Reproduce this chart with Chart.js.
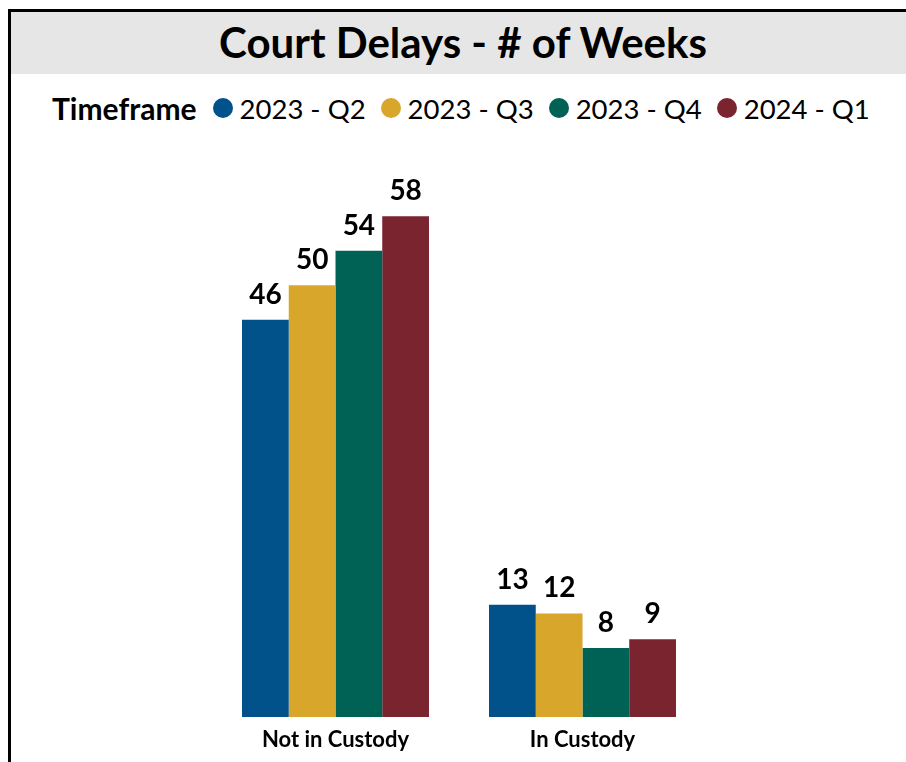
<!DOCTYPE html>
<html>
<head>
<meta charset="utf-8">
<script src="https://cdn.jsdelivr.net/npm/chart.js@4"></script>
<style>
  body { margin: 0; background: #fff; font-family: Lato, "Open Sans", sans-serif; }
  #frame { position: absolute; left: 8px; top: 9px; width: 910px; height: 770px;
           border-top: 3px solid #000; border-left: 3px solid #000; }
  #band { position: absolute; left: 11px; top: 12px; width: 900px; height: 62px; background: #e6e6e6; }
  #title { position: absolute; left: 11px; top: 11px; width: 904px; height: 62px; line-height: 62px;
           text-align: center; font-weight: bold; font-size: 42px; color: #000; }
  #legend { position: absolute; left: 52px; top: 90px; height: 36px; display: flex; align-items: center;
            font-size: 27.5px; color: #000; white-space: nowrap; }
  #legend .head { font-weight: bold; font-size: 30px; margin-right: 16px; }
  #legend .item { display: flex; align-items: center; margin-right: 15px; }
  #legend .dot { width: 20px; height: 20px; border-radius: 50%; margin-right: 7px; }
  #wrap { position: absolute; left: 0; top: 0; width: 906px; height: 762px; }
</style>
</head>
<body>
<div id="band"></div>
<div id="frame"></div>
<div id="title">Court Delays - # of Weeks</div>
<div id="legend"><span class="head">Timeframe</span></div>
<div id="wrap"><canvas id="chart"></canvas></div>
<script>
// categories and series
const categories = ['Not in Custody', 'In Custody'];
const timeframes = ['2023 - Q2', '2023 - Q3', '2023 - Q4', '2024 - Q1'];
const q2_2023 = [46, 13];
const q3_2023 = [50, 12];
const q4_2023 = [54, 8];
const q1_2024 = [58, 9];
const colors = ['#01518a', '#d8a62b', '#006255', '#7a2430'];

const seriesValues = [q2_2023, q3_2023, q4_2023, q1_2024];

// html legend
const legendEl = document.getElementById('legend');
timeframes.forEach((name, i) => {
    const item = document.createElement('span');
    item.className = 'item';
    item.innerHTML = '<span class="dot" style="background:' + colors[i] + '"></span>' + name;
    legendEl.appendChild(item);
});

// value labels above the bars
const valueLabels = {
    id: 'valueLabels',
    afterDatasetsDraw(chart) {
        const ctx = chart.ctx;
        ctx.save();
        ctx.font = 'bold 28px Lato, sans-serif';
        ctx.fillStyle = '#000';
        ctx.textAlign = 'center';
        ctx.textBaseline = 'alphabetic';
        chart.data.datasets.forEach((ds, i) => {
            chart.getDatasetMeta(i).data.forEach((bar, j) => {
                ctx.fillText(ds.data[j], bar.x, bar.y - 16);
            });
        });
        ctx.restore();
    }
};

const ctx = document.getElementById('chart').getContext('2d');
const chart = new Chart(ctx, {
    type: 'bar',
    data: {
        labels: categories,
        datasets: timeframes.map((name, i) => ({
            label: name,
            data: seriesValues[i],
            backgroundColor: colors[i],
            borderWidth: 0,
            barPercentage: 1,
            categoryPercentage: 0.757
        }))
    },
    options: {
        responsive: true,
        maintainAspectRatio: false,
        animation: false,
        layout: { padding: { left: 212, right: 200, top: 199, bottom: 0 } },
        plugins: {
            legend: { display: false },
            tooltip: { enabled: false }
        },
        scales: {
            x: {
                grid: { display: false, drawTicks: false },
                border: { display: false },
                ticks: { color: '#000', padding: 16, font: { family: 'Lato', size: 22, weight: 'bold', lineHeight: 0.59 } }
            },
            y: {
                display: false,
                min: 0,
                max: 60
            }
        }
    },
    plugins: [valueLabels]
});
</script>
</body>
</html>
